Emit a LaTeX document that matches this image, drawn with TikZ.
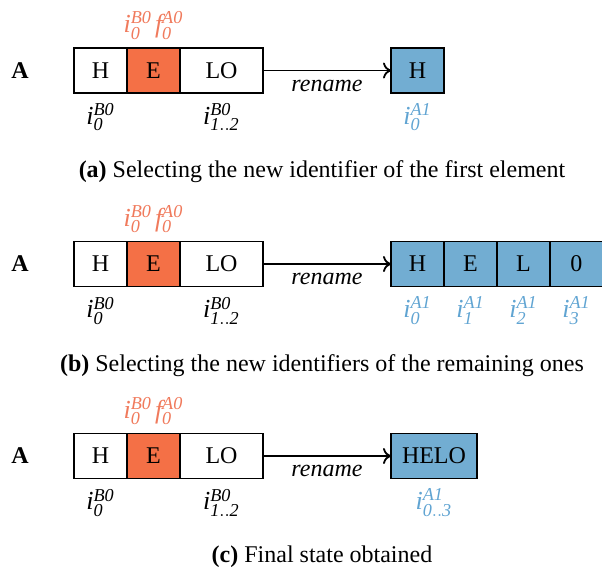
\documentclass[tikz,border=0pt]{standalone}
\usepackage{fontspec}
\setmainfont{Liberation Serif}
\usepackage{xcolor}
\usepackage{tikz}
\usetikzlibrary{arrows.meta, positioning}
\definecolor{myorange}{RGB}{244,112,70}
\definecolor{myorangetxt}{RGB}{240,122,92}
\definecolor{myblue}{RGB}{114,173,210}
\definecolor{mybluetxt}{RGB}{96,164,210}
\tikzset{
  cell/.style={rectangle, draw=black, fill=white,
    minimum width=26.5pt, minimum height=22.5pt,
    inner sep=0pt, outer sep=0pt, line width=0.6pt},
  redcell/.style={cell, fill=myorange},
  bluecell/.style={cell, fill=myblue},
  idlabel/.style={inner sep=1pt, font=\fontsize{13}{15}\selectfont},
  redlabel/.style={idlabel, text=myorangetxt},
  bluelabel/.style={idlabel, text=mybluetxt},
  caption/.style={inner sep=0pt},
  arrow/.style={-{To[length=4pt, width=8pt]}, line width=0.9pt}
}
\newcommand{\idf}[3]{$\mathit{#1}^{\mathit{#2}}_{\mathit{#3}}$}

\begin{document}
\begin{tikzpicture}[x=0.5pt, y=-0.5pt, every node/.style={font=\fontsize{12}{14}\selectfont}]
  \useasboundingbox (0,0) rectangle (602,574);

  % (a) first element
  \node[font=\fontsize{12}{14}\selectfont\bfseries] (nameA) at (20,71) {A};
  \node[cell] (hA) at (100.5,70.5) {H};
  \node[redcell, right=0pt of hA] (eA) {E};
  \node[cell, minimum width=41.5pt, right=0pt of eA] (loA) {LO};
  \node[redlabel, above=3pt of eA] (topA) {\idf{i}{B0}{0}\hspace{1.5pt}\idf{f}{A0}{0}};
  \node[idlabel, below=4pt of hA] (ihA) {\idf{i}{B0}{0}};
  \node[idlabel, below=4pt of loA] (iloA) {\idf{i}{B0}{1..2}};
  \node[bluecell] (oA) at (417.5,70.5) {H};
  \node[bluelabel, below=4pt of oA] (ioA) {\idf{i}{A1}{0}};
  \draw[arrow] (loA) -- (oA) node[midway, below=1pt] {\textit{rename}};
  \node[caption] (capA) at (322,172) {\textbf{(a)} Selecting the new identifier of the first element};

  % (b) remaining elements
  \node[font=\fontsize{12}{14}\selectfont\bfseries] (nameB) at (20,264) {A};
  \node[cell] (hB) at (100.5,264) {H};
  \node[redcell, right=0pt of hB] (eB) {E};
  \node[cell, minimum width=41.5pt, right=0pt of eB] (loB) {LO};
  \node[redlabel, above=3pt of eB] (topB) {\idf{i}{B0}{0}\hspace{1.5pt}\idf{f}{A0}{0}};
  \node[idlabel, below=4pt of hB] (ihB) {\idf{i}{B0}{0}};
  \node[idlabel, below=4pt of loB] (iloB) {\idf{i}{B0}{1..2}};
  \foreach \c/\k [count=\n] in {H/0, E/1, L/2, 0/3} {
    \node[bluecell] (oB\n) at ({417.5+53*(\n-1)},264) {\c};
    \node[bluelabel, below=4pt of oB\n] (ioB\n) {\idf{i}{A1}{\k}};
  }
  \draw[arrow] (loB) -- (oB1) node[midway, below=1pt] {\textit{rename}};
  \node[caption] (capB) at (322,366) {\textbf{(b)} Selecting the new identifiers of the remaining ones};

  % (c) final state
  \node[font=\fontsize{12}{14}\selectfont\bfseries] (nameC) at (20,456) {A};
  \node[cell] (hC) at (100.5,456) {H};
  \node[redcell, right=0pt of hC] (eC) {E};
  \node[cell, minimum width=41.5pt, right=0pt of eC] (loC) {LO};
  \node[redlabel, above=3pt of eC] (topC) {\idf{i}{B0}{0}\hspace{1.5pt}\idf{f}{A0}{0}};
  \node[idlabel, below=4pt of hC] (ihC) {\idf{i}{B0}{0}};
  \node[idlabel, below=4pt of loC] (iloC) {\idf{i}{B0}{1..2}};
  \node[bluecell, minimum width=43pt] (oC) at (434,456) {HELO};
  \node[bluelabel, below=4pt of oC] (ioC) {\idf{i}{A1}{0..3}};
  \draw[arrow] (loC) -- (oC) node[midway, below=1pt] {\textit{rename}};
  \node[caption] (capC) at (322,557) {\textbf{(c)} Final state obtained};
\end{tikzpicture}
\end{document}
